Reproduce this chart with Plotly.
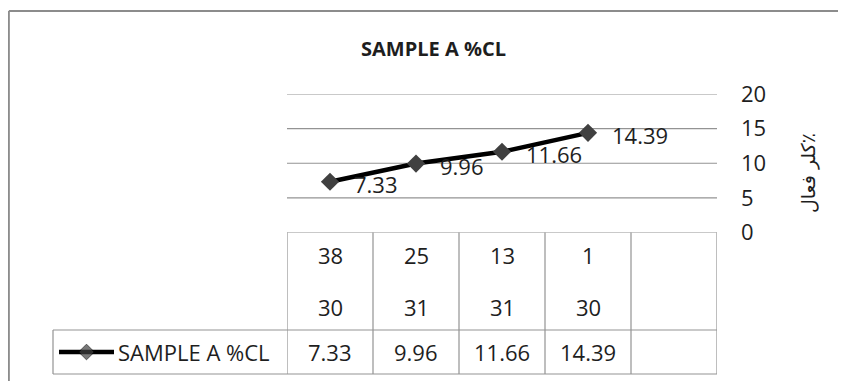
import plotly.graph_objects as go

# ---- data ----
series_name = "SAMPLE A %CL"
cat_top = ["38", "25", "13", "1", ""]
cat_bottom = ["30", "31", "31", "30", ""]
values = [7.33, 9.96, 11.66, 14.39]
y_ticks = [0, 5, 10, 15, 20]
y_title = "\u200f٪كلر فعال"
chart_title = "SAMPLE A %CL"

# ---- layout constants (screen pixels) ----
W, H = 846, 381
OFF = 8                    # page body margin
PL, PR = 287, 717          # plot left / right
PT, PB = 94, 232.5         # plot top (y=20) / bottom (y=0)
ROW1_Y1, ROW2_Y0 = 255, 307
ROW_SPLIT = 330
TBL_BOTTOM = 374
LEG_LEFT = 53
FONT = "Open Sans"
GRID = "#939393"
TXT = "#1e1e1e"


def fx(p):
    return (p - OFF) / W


def fy(p):
    return 1 - (p - OFF) / H


xs = list(range(len(cat_top)))

fig = go.Figure()
fig.add_trace(go.Scatter(
    x=xs[:len(values)], y=values, mode="lines+markers",
    line=dict(color="black", width=4.5),
    marker=dict(symbol="diamond", size=14, color="#404040"),
    showlegend=False, hoverinfo="skip", name=series_name,
))
# legend symbol inside the data table
fig.add_trace(go.Scatter(
    x=[0, 0.5, 1], y=[0.5, 0.5, 0.5], mode="lines+markers",
    line=dict(color="black", width=4.5),
    marker=dict(symbol="diamond", size=[0, 12, 0], color="#404040"),
    xaxis="x2", yaxis="y2", showlegend=False, hoverinfo="skip",
))

shapes = []
# horizontal gridlines
for t in y_ticks:
    shapes.append(dict(type="line", xref="paper", yref="y",
                       x0=fx(PL), x1=fx(PR), y0=t, y1=t, layer="below",
                       line=dict(color=GRID, width=1.2)))
# outer chart border (top and left edges visible in the crop)
shapes.append(dict(type="line", xref="paper", yref="paper",
                   x0=0.001, x1=1, y0=fy(11), y1=fy(11),
                   line=dict(color="#8c8c8c", width=2)))
shapes.append(dict(type="line", xref="paper", yref="paper",
                   x0=0.001, x1=0.001, y0=fy(11), y1=0,
                   line=dict(color="#8c8c8c", width=2)))
# table vertical lines
for i in range(len(cat_top) + 1):
    shapes.append(dict(type="line", xref="x", yref="paper",
                       x0=i - 0.5, x1=i - 0.5, y0=fy(PB), y1=fy(TBL_BOTTOM),
                       line=dict(color=GRID, width=1.2)))
# row split and bottom lines
for yy in (ROW_SPLIT, TBL_BOTTOM):
    shapes.append(dict(type="line", xref="paper", yref="paper",
                       x0=fx(LEG_LEFT), x1=fx(PR), y0=fy(yy), y1=fy(yy),
                       line=dict(color=GRID, width=1.2)))
shapes.append(dict(type="line", xref="paper", yref="paper",
                   x0=fx(LEG_LEFT), x1=fx(LEG_LEFT), y0=fy(ROW_SPLIT), y1=fy(TBL_BOTTOM),
                   line=dict(color=GRID, width=1.2)))

annotations = []
tfont = dict(family=FONT, size=22, color=TXT)
C = dict(xanchor="center", yanchor="middle", showarrow=False)
for i, (a, b) in enumerate(zip(cat_top, cat_bottom)):
    if a:
        annotations.append(dict(x=i, y=fy(ROW1_Y1), xref="x", yref="paper",
                                text=a, font=tfont, **C))
    if b:
        annotations.append(dict(x=i, y=fy(ROW2_Y0), xref="x", yref="paper",
                                text=b, font=tfont, **C))
for i, v in enumerate(values):
    annotations.append(dict(x=i, y=fy(352), xref="x", yref="paper",
                            text=f"{v:.2f}", font=tfont, **C))
    # data labels
    annotations.append(dict(x=i, y=v, xref="x", yref="y", text=f"{v:.2f}",
                            showarrow=False, xanchor="left", yanchor="middle",
                            xshift=22, yshift=-2, font=tfont))
annotations.append(dict(x=fx(116), y=fy(352), xref="paper", yref="paper",
                        text=series_name, showarrow=False, xanchor="left",
                        yanchor="middle", font=tfont))
annotations.append(dict(x=fx(808), y=fy(173), xref="paper", yref="paper",
                        text=y_title, textangle=-90,
                        font=dict(family="DejaVu Sans", size=19, color=TXT), **C))
annotations.append(dict(x=fx(433), y=fy(48), xref="paper", yref="paper",
                        text=f"<b>{chart_title}</b>",
                        font=dict(family=FONT, size=20, color=TXT), **C))

fig.update_layout(
    width=W, height=H,
    margin=dict(l=0, r=0, t=0, b=0, autoexpand=False),
    paper_bgcolor="white", plot_bgcolor="white",
    showlegend=False,
    xaxis=dict(domain=[fx(PL), fx(PR)], range=[-0.5, len(cat_top) - 0.5],
               showticklabels=False, showgrid=False, zeroline=False,
               showline=False, fixedrange=True, automargin=False),
    yaxis=dict(domain=[fy(PB), fy(PT)], range=[0, 20], side="right",
               tickvals=y_ticks, ticktext=[str(t) for t in y_ticks],
               showgrid=False, zeroline=False, showline=False, ticks="",
               ticklabelstandoff=23, automargin=False,
               tickfont=dict(family=FONT, size=22, color=TXT), fixedrange=True),
    xaxis2=dict(domain=[fx(59), fx(114)], range=[0, 1], visible=False,
                anchor="y2", automargin=False),
    yaxis2=dict(domain=[fy(362), fy(342)], range=[0, 1], visible=False,
                anchor="x2", automargin=False),
    shapes=shapes,
    annotations=annotations,
)

fig.write_html("out.html")
